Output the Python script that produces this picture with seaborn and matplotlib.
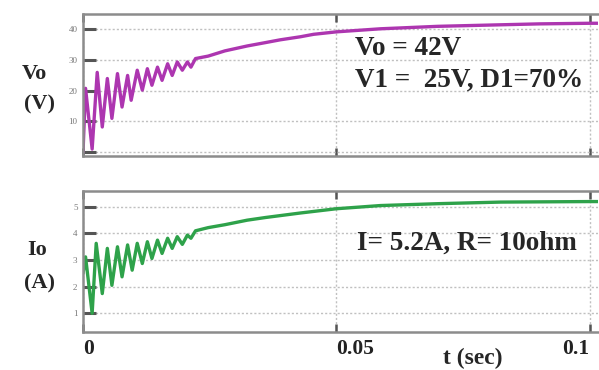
import matplotlib
matplotlib.use("Agg")
import matplotlib.pyplot as plt
import seaborn as sns
import pandas as pd

# output voltage Vo (V) vs time (s)
t_vo = [0, 0.0005, 0.0018, 0.0028, 0.0038, 0.0048, 0.0057, 0.0068, 0.0077, 0.0088,
        0.0095, 0.0107, 0.0117, 0.0127, 0.0136, 0.0147, 0.0156, 0.0167, 0.0176, 0.0186,
        0.0196, 0.0206, 0.0213, 0.0222, 0.0247, 0.028, 0.0324, 0.036, 0.0389, 0.0429,
        0.0455, 0.05, 0.0587, 0.07, 0.0824, 0.09, 0.1, 0.1016]
vo = [0, 20.8, 1.0, 26.0, 8.2, 24.0, 11.0, 25.6, 14.7, 25.0,
      16.9, 26.7, 20.2, 27.2, 21.8, 27.7, 23.4, 28.8, 25.0, 29.4,
      26.7, 29.4, 27.7, 30.5, 31.3, 33.0, 34.6, 35.7, 36.6, 37.6,
      38.4, 39.2, 40.2, 41.0, 41.5, 41.8, 42.0, 42.0]

# output current Io (A) vs time (s)
t_io = [0, 0.0005, 0.0018, 0.0026, 0.0038, 0.0048, 0.0057, 0.0068, 0.0077, 0.0088,
        0.0097, 0.0107, 0.0117, 0.0127, 0.0136, 0.0147, 0.0156, 0.0167, 0.0176, 0.0186,
        0.0196, 0.0206, 0.0213, 0.0222, 0.0247, 0.028, 0.0324, 0.036, 0.0429, 0.05,
        0.0587, 0.07, 0.0824, 0.1, 0.1016]
io = [2.5, 3.12, 1.0, 3.63, 1.74, 3.44, 2.05, 3.5, 2.37, 3.57,
      2.62, 3.63, 2.87, 3.69, 3.06, 3.75, 3.25, 3.82, 3.44, 3.88,
      3.59, 3.94, 3.82, 4.1, 4.22, 4.33, 4.5, 4.6, 4.77, 4.93,
      5.05, 5.12, 5.18, 5.2, 5.2]

vo_ticks = [0, 10, 20, 30, 40]
vo_labels = ["", "10", "20", "30", "40"]
io_ticks = [1, 2, 3, 4, 5]
x_ticks = [0, 0.05, 0.1]
x_labels = ["0", "0.05", "0.1"]

df_vo = pd.DataFrame({"t": t_vo, "Vo": vo})
df_io = pd.DataFrame({"t": t_io, "Io": io})

sns.set_theme(style="white")
plt.rcParams["font.family"] = ["Liberation Serif", "DejaVu Serif"]

fig = plt.figure(figsize=(5.99, 3.70), dpi=100)
ax1 = fig.add_axes([0.1386, 0.578, 0.8594, 0.384])
ax2 = fig.add_axes([0.1386, 0.103, 0.8594, 0.381])

sns.lineplot(data=df_vo, x="t", y="Vo", ax=ax1, color="#ad36b0", linewidth=2.4)
sns.lineplot(data=df_io, x="t", y="Io", ax=ax2, color="#2ea24a", linewidth=2.4)

ax1.set_ylim(-1.3, 45)
ax2.set_ylim(0.3, 5.6)
ax1.set_yticks(vo_ticks)
ax1.set_yticklabels(vo_labels)
ax2.set_yticks(io_ticks)

for ax in (ax1, ax2):
    ax.set_xlim(0, 0.1016)
    ax.set_xticks(x_ticks)
    ax.set_xlabel("")
    ax.set_ylabel("")
    ax.grid(True, color="#c0c0c0", linestyle=(0, (1.5, 1.5)), linewidth=1.0)
    for side in ("left", "top", "bottom"):
        ax.spines[side].set_color("#8c8c8c")
        ax.spines[side].set_linewidth(1.8)
    ax.spines["right"].set_visible(False)
    ax.tick_params(axis="y", direction="in", length=9, width=2.2, color="#555555",
                   labelsize=6.5, labelcolor="#777777", pad=4, left=True)
    ax.tick_params(axis="x", direction="in", length=6, width=1.8, color="#555555",
                   top=True, bottom=True)

ax1.set_xticklabels([])
ax2.set_xticklabels(x_labels, fontsize=15.5, fontweight="bold", color="#222222")
ax2.tick_params(axis="x", pad=5)
xl = ax2.get_xticklabels()
xl[0].set_ha("left")
xl[1].set_ha("left")
xl[2].set_ha("right")

# axis titles
fig.text(0.058, 0.80, "Vo", ha="center", va="center", fontsize=16, fontweight="bold")
fig.text(0.066, 0.718, "(V)", ha="center", va="center", fontsize=16, fontweight="bold")
fig.text(0.062, 0.325, "Io", ha="center", va="center", fontsize=16, fontweight="bold")
fig.text(0.066, 0.235, "(A)", ha="center", va="center", fontsize=16, fontweight="bold")
fig.text(0.789, 0.03, "t (sec)", ha="center", va="center", fontsize=17, fontweight="bold")

# annotations
fig.text(0.593, 0.868, "Vo = 42V", ha="left", va="center", fontsize=19.5, fontweight="bold")
fig.text(0.593, 0.782, "V1 =  25V, D1=70%", ha="left", va="center", fontsize=19.5, fontweight="bold")
fig.text(0.596, 0.343, "I= 5.2A, R= 10ohm", ha="left", va="center", fontsize=19.5, fontweight="bold")

plt.savefig("out.png", dpi=100)
